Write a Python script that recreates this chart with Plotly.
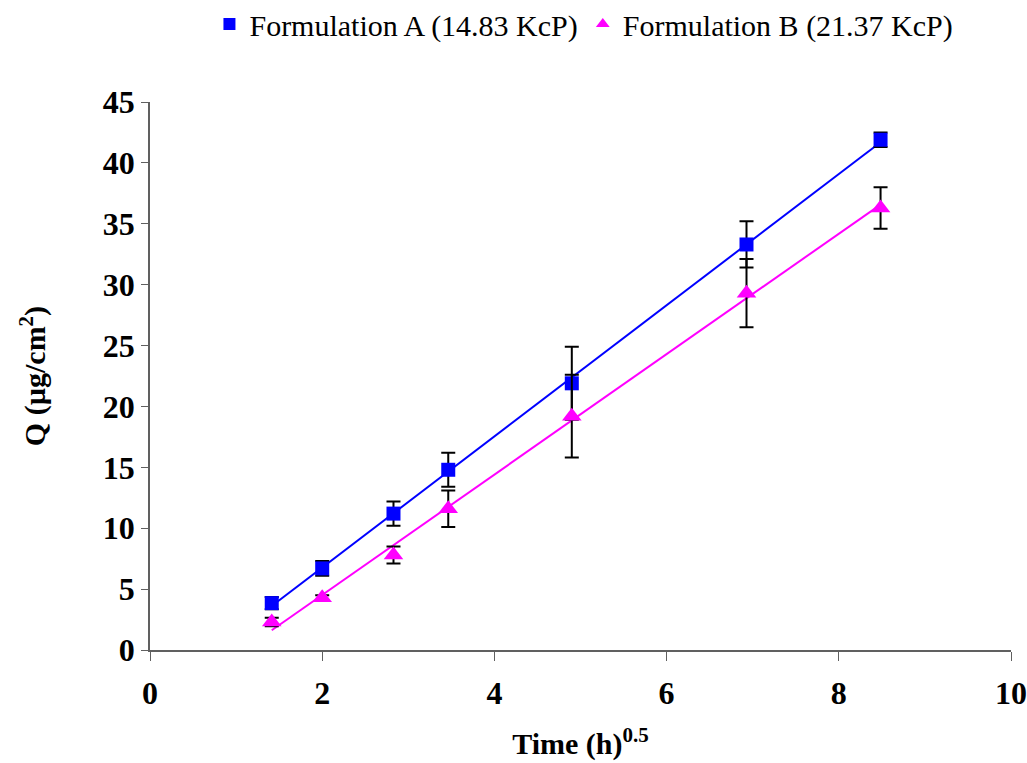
import numpy as np
import plotly.graph_objects as go

# time points as sqrt(h)
time_sqrt = [1.414, 2.0, 2.828, 3.464, 4.899, 6.928, 8.485]

# Formulation A (14.83 KcP)
q_a = [3.85, 6.7, 11.2, 14.8, 21.9, 33.3, 41.9]
err_a = [0.5, 0.6, 1.0, 1.4, 3.0, 1.9, 0.6]

# Formulation B (21.37 KcP)
q_b = [2.3, 4.3, 7.8, 11.6, 19.2, 29.3, 36.3]
err_b = [0.35, 0.2, 0.7, 1.5, 3.4, 2.8, 1.7]

series_names = ["Formulation A (14.83 KcP)", "Formulation B (21.37 KcP)"]
series_colors = ["#0000FF", "#FF00FF"]
series_symbols = ["square", "triangle-up"]
marker_sizes = [14, 17]

x_ticks = [0, 2, 4, 6, 8, 10]
y_ticks = [0, 5, 10, 15, 20, 25, 30, 35, 40, 45]

FONT = "Liberation Serif, Times New Roman, serif"

fig = go.Figure()

# linear trendlines (least squares on the data, like excel)
for ys, col in zip([q_a, q_b], series_colors):
    slope, icpt = np.polyfit(time_sqrt, ys, 1)
    xs = [time_sqrt[0], time_sqrt[-1]]
    fig.add_trace(go.Scatter(
        x=xs, y=[slope * v + icpt for v in xs],
        mode="lines", line=dict(color=col, width=2),
        showlegend=False, hoverinfo="skip"))

for ys, errs, name, col, sym, msize in zip([q_a, q_b], [err_a, err_b], series_names,
                                           series_colors, series_symbols, marker_sizes):
    fig.add_trace(go.Scatter(
        x=time_sqrt, y=ys, mode="markers", name=name,
        marker=dict(color=col, symbol=sym, size=msize),
        error_y=dict(type="data", array=errs, visible=True,
                     color="black", thickness=2, width=7)))

fig.update_layout(
    width=1027, height=763,
    paper_bgcolor="white", plot_bgcolor="white",
    margin=dict(l=150, r=16, t=102, b=113, autoexpand=False),
    font=dict(family=FONT, color="black"),
    legend=dict(orientation="h", x=0.504, xanchor="center", y=1.19, yanchor="top",
                font=dict(size=30, family=FONT), itemsizing="constant",
                tracegroupgap=0, itemwidth=30),
    xaxis=dict(range=[0, 10], tickvals=x_ticks, showgrid=False, zeroline=False,
               showline=True, linecolor="#606060", linewidth=1.5,
               ticks="outside", ticklen=9, tickcolor="#606060",
               ticklabelstandoff=5, automargin=False,
               tickfont=dict(size=32, family=FONT, weight="bold"),
               title=dict(text="<b>Time (h)<sup>0.5</sup></b>",
                          font=dict(size=30, family=FONT), standoff=23)),
    yaxis=dict(range=[0, 45], tickvals=y_ticks, showgrid=False, zeroline=False,
               showline=True, linecolor="#606060", linewidth=1.5,
               ticks="outside", ticklen=7, tickcolor="#606060",
               automargin=False,
               tickfont=dict(size=32, family=FONT, weight="bold"),
               title=dict(text="<b>Q (µg/cm<sup>2</sup>)</b>",
                          font=dict(size=30, family=FONT), standoff=48)),
)

# drop the default body margin so the figure sits at the window's corner
fig.write_html("out.html", config={"displayModeBar": False},
               post_script="document.body.style.margin='0';"
                           "document.body.style.overflow='hidden';")
